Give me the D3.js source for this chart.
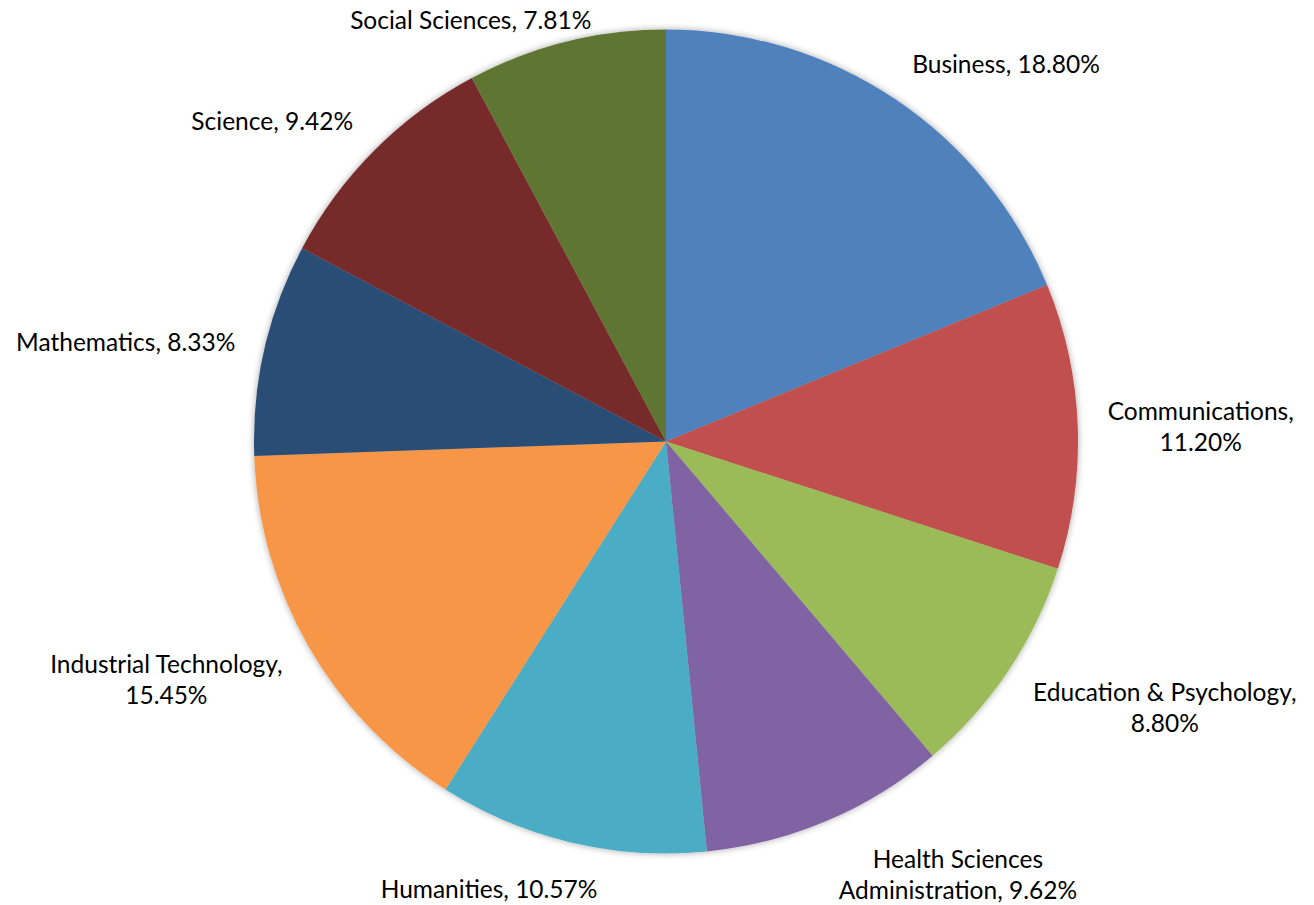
<!DOCTYPE html>
<html lang="en">

<head>
    <meta charset="UTF-8">
    <title>Pie Chart</title>
    <style>
        body {
            margin: 0;
            padding: 0;
            background: #fff;
        }

        svg {
            display: block;
        }

        .slice-label {
            font-family: Lato, "Open Sans", sans-serif;
            font-size: 24.5px;
            fill: #000;
        }
    </style>
</head>

<body>
    <svg id="chart"></svg>

    <script src="https://cdnjs.cloudflare.com/ajax/libs/d3/7.9.0/d3.min.js"></script>
    <script>
        // data
        const categories = ['Business', 'Communications', 'Education & Psychology', 'Health Sciences Administration',
            'Humanities', 'Industrial Technology', 'Mathematics', 'Science', 'Social Sciences'];
        const shares = [18.80, 11.20, 8.80, 9.62, 10.57, 15.45, 8.33, 9.42, 7.81];
        const colors = ['#4F81BD', '#C0504D', '#9BBB59', '#8064A2', '#4BACC6', '#F79646', '#2C4D75', '#772C2A', '#5F7530'];
        // how each label wraps (same as the original)
        const labelLines = [
            ['Business, 18.80%'],
            ['Communications,', '11.20%'],
            ['Education & Psychology,', '8.80%'],
            ['Health Sciences', 'Administration, 9.62%'],
            ['Humanities, 10.57%'],
            ['Industrial Technology,', '15.45%'],
            ['Mathematics, 8.33%'],
            ['Science, 9.42%'],
            ['Social Sciences, 7.81%']
        ];

        const width = 1314;
        const height = 905;
        const cx = 666, cy = 441.5, radius = 412;
        const gap = 30;
        const lineHeight = 31;

        const svg = d3.select('#chart')
            .attr('width', width)
            .attr('height', height);

        const defs = svg.append('defs');
        const shadow = defs.append('filter')
            .attr('id', 'shadow')
            .attr('x', '-10%').attr('y', '-10%')
            .attr('width', '120%').attr('height', '120%');
        shadow.append('feGaussianBlur').attr('in', 'SourceAlpha').attr('stdDeviation', 3.5).attr('result', 'blur');
        shadow.append('feComponentTransfer').attr('in', 'blur').attr('result', 'soft')
            .append('feFuncA').attr('type', 'linear').attr('slope', 0.35);
        const merge = shadow.append('feMerge');
        merge.append('feMergeNode').attr('in', 'soft');
        merge.append('feMergeNode').attr('in', 'SourceGraphic');

        const data = categories.map((c, i) => ({ name: c, value: shares[i], lines: labelLines[i], color: colors[i] }));

        const pie = d3.pie()
            .sort(null)
            .value(d => d.value);

        const arc = d3.arc()
            .innerRadius(0)
            .outerRadius(radius);

        const arcs = pie(data);

        const g = svg.append('g')
            .attr('transform', `translate(${cx},${cy})`);

        g.append('g')
            .attr('filter', 'url(#shadow)')
            .selectAll('path')
            .data(arcs)
            .enter().append('path')
            .attr('d', arc)
            .attr('fill', d => d.data.color);

        // labels sit outside the pie, the text block pushed away from the slice
        const clamp = v => Math.max(-1, Math.min(1, v));

        const labels = g.append('g')
            .selectAll('text')
            .data(arcs)
            .enter().append('text')
            .attr('class', 'slice-label')
            .attr('text-anchor', 'middle');

        labels.selectAll('tspan')
            .data(d => d.data.lines)
            .enter().append('tspan')
            .attr('x', 0)
            .attr('dy', (d, i) => i === 0 ? 0 : lineHeight)
            .text(d => d);

        labels.each(function (d) {
            const el = d3.select(this);
            const w = this.getBBox().width;
            const h = d.data.lines.length * lineHeight;
            const mid = (d.startAngle + d.endAngle) / 2;
            const sx = Math.sin(mid), sy = -Math.cos(mid);
            const x = (radius + gap) * sx + w / 2 * clamp(sx * 3);
            let y = (radius + gap) * sy + h / 2 * sy;
            // keep inside the picture
            y = Math.max(y, -cy + h / 2 + 2);
            y = Math.min(y, height - cy - h / 2 - 2);
            const top = y - h / 2;
            el.attr('transform', `translate(${x},${top + lineHeight * 0.88})`);
        });
    </script>
</body>

</html>
